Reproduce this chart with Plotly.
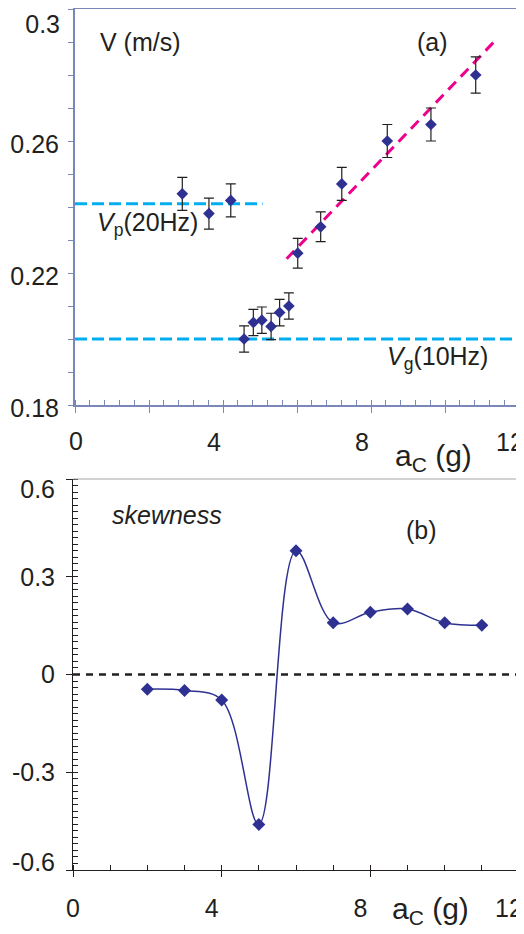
import plotly.graph_objects as go

# ---- data: panel (a) velocity vs a_c ----
v_x = [2.90, 3.62, 4.21, 4.57, 4.82, 5.05, 5.30, 5.53, 5.78, 6.02, 6.64, 7.21, 8.44, 9.62, 10.83]
v_y = [0.244, 0.238, 0.242, 0.200, 0.205, 0.2057, 0.2038, 0.208, 0.210, 0.226, 0.234, 0.247, 0.260, 0.265, 0.280]
v_err = [0.005, 0.0047, 0.005, 0.004, 0.004, 0.004, 0.004, 0.004, 0.004, 0.0045, 0.0045, 0.005, 0.005, 0.005, 0.0055]

fit_x = [5.72, 11.38]
fit_y = [0.2243, 0.2907]
vp_x = [0, 5.07]
vp_y = [0.241, 0.241]
vg_x = [0, 12]
vg_y = [0.200, 0.200]

# ---- data: panel (b) skewness ----
s_x = [2, 3, 4, 5, 6, 7, 8, 9, 10, 11]
s_y = [-0.045, -0.049, -0.078, -0.46, 0.38, 0.159, 0.191, 0.201, 0.159, 0.151]
zero_x = [0, 12]
zero_y = [0, 0]

# ---- tick labels ----
xa_vals = [0, 2, 4, 6, 8, 10, 12]
xa_text = ["", "", "4", "", "8", "", "12"]
xa0_vals, xa0_text = [0], ["0"]
ya_vals = [0.18, 0.19, 0.20, 0.21, 0.22, 0.23, 0.24, 0.25, 0.26, 0.27, 0.28, 0.29, 0.30]
ya_text = ["0.18", "", "", "", "0.22", "", "", "", "0.26", "", "", "", ""]
ya_top_vals, ya_top_text = [0.30], ["0.3"]
xb_vals = [0, 4, 8, 12]
xb_text = ["", "4", "8", "12"]
xb0_vals, xb0_text = [0], ["0"]
yb_vals = [-0.6, -0.3, 0, 0.3, 0.6]
yb_text = ["", "-0.3", "0", "0.3", ""]
yb_top_vals, yb_top_text = [0.6], ["0.6"]
yb_bot_vals, yb_bot_text = [-0.6], ["-0.6"]

NAVY = "#2E3192"
TXT = "#231F20"
FRAME = "#7C87B9"
CYAN = "#00AEEF"
MAGENTA = "#EC008C"
FONT = "Liberation Sans, Arial, Helvetica, sans-serif"
CLEAR = "rgba(0,0,0,0)"

# page has an 8px body margin: figure is placed at (8, 8) in the 524x934 window
OFF = 8
W, H = 524 - OFF, 934 - OFF


def fx(px):
    return min(1.0, max(0.0, (px - OFF) / W))


def fy(py):
    return min(1.0, max(0.0, 1 - (py - OFF) / H))


fig = go.Figure()

# panel (a)
fig.add_trace(go.Scatter(x=vg_x, y=vg_y, mode="lines", xaxis="x", yaxis="y",
                         line=dict(color=CYAN, width=3, dash="12px,5px"), hoverinfo="skip"))
fig.add_trace(go.Scatter(x=vp_x, y=vp_y, mode="lines", xaxis="x", yaxis="y",
                         line=dict(color=CYAN, width=3, dash="12px,5px"), hoverinfo="skip"))
fig.add_trace(go.Scatter(x=fit_x, y=fit_y, mode="lines", xaxis="x", yaxis="y",
                         line=dict(color=MAGENTA, width=3, dash="11px,7px")))
fig.add_trace(go.Scatter(x=v_x, y=v_y, mode="markers", xaxis="x", yaxis="y",
                         marker=dict(symbol="diamond", size=9, color=NAVY),
                         error_y=dict(type="data", array=v_err, visible=True,
                                      color=TXT, thickness=1.2, width=5)))

# panel (b)
fig.add_trace(go.Scatter(x=zero_x, y=zero_y, mode="lines", xaxis="x2", yaxis="y2",
                         line=dict(color=TXT, width=2.5, dash="7px,6px")))
fig.add_trace(go.Scatter(x=s_x, y=s_y, mode="lines+markers", xaxis="x2", yaxis="y2",
                         line=dict(color=NAVY, width=1.5, shape="spline", smoothing=1.0),
                         marker=dict(symbol="diamond", size=10, color=NAVY)))

# empty traces so the label-only overlay axes are drawn
for xa, ya in [("x3", "y"), ("x", "y3"), ("x4", "y2"), ("x2", "y4"), ("x2", "y5")]:
    fig.add_trace(go.Scatter(x=[], y=[], xaxis=xa, yaxis=ya, mode="markers", hoverinfo="skip"))

tickfont = dict(family=FONT, size=25, color=TXT)


def label_axis(overlay, anchor, rng, vals, text, ticklen, standoff, shift):
    return dict(overlaying=overlay, anchor=anchor, range=rng, automargin=False,
                tickmode="array", tickvals=vals, ticktext=text,
                ticks="outside", ticklen=ticklen, tickcolor=CLEAR,
                showline=False, showgrid=False, zeroline=False, tickfont=tickfont,
                ticklabelstandoff=standoff, ticklabelshift=shift, ticklabeloverflow="allow")


fig.update_layout(
    template="none",
    width=W, height=H, showlegend=False,
    paper_bgcolor="white", plot_bgcolor="white",
    margin=dict(l=0, r=0, t=0, b=0, pad=0, autoexpand=False),
    font=dict(family=FONT, color=TXT),
    xaxis=dict(domain=[fx(75), fx(519)], range=[0, 12], anchor="y", automargin=False,
               tickmode="array", tickvals=xa_vals, ticktext=xa_text,
               ticks="outside", ticklen=6, tickcolor=FRAME, tickwidth=1,
               minor=dict(dtick=0.4, tick0=0, ticks="inside", ticklen=5, tickcolor=FRAME, showgrid=False),
               showline=True, linecolor=FRAME, linewidth=2, mirror=True,
               showgrid=False, zeroline=False, tickfont=tickfont,
               ticklabelstandoff=8, ticklabelshift=-9, ticklabeloverflow="allow"),
    xaxis3=label_axis("x", "y", [0, 12], xa0_vals, xa0_text, 6, 8, 1),
    yaxis=dict(domain=[fy(405), fy(9)], range=[0.18, 0.30], anchor="x", automargin=False,
               tickmode="array", tickvals=ya_vals, ticktext=ya_text,
               ticks="outside", ticklen=5, tickcolor=FRAME, tickwidth=1,
               showline=True, linecolor=FRAME, linewidth=2, mirror=True,
               showgrid=False, zeroline=False, tickfont=tickfont,
               ticklabelstandoff=4, ticklabelshift=3, ticklabeloverflow="allow"),
    yaxis3=label_axis("y", "x", [0.18, 0.30], ya_top_vals, ya_top_text, 5, 4, 15),
    xaxis2=dict(domain=[fx(73), fx(519)], range=[0, 12], anchor="y2", automargin=False,
                tickmode="array", tickvals=xb_vals, ticktext=xb_text,
                ticks="outside", ticklen=6, tickcolor=TXT, tickwidth=1,
                minor=dict(dtick=1, tick0=0, ticks="inside", ticklen=5, tickcolor=TXT, showgrid=False),
                showline=True, linecolor=TXT, linewidth=1,
                showgrid=False, zeroline=False, tickfont=tickfont,
                ticklabelstandoff=10, ticklabelshift=-10, ticklabeloverflow="allow"),
    xaxis4=label_axis("x2", "y2", [0, 12], xb0_vals, xb0_text, 6, 10, 0),
    yaxis2=dict(domain=[fy(870), fy(479)], range=[-0.6, 0.6], anchor="x2", automargin=False,
                tickmode="array", tickvals=yb_vals, ticktext=yb_text,
                ticks="outside", ticklen=6, tickcolor=TXT, tickwidth=1,
                minor=dict(dtick=0.02, tick0=0, ticks="inside", ticklen=5, tickcolor=TXT, showgrid=False),
                showline=True, linecolor=TXT, linewidth=1,
                showgrid=False, zeroline=False, tickfont=tickfont,
                ticklabelstandoff=6, ticklabeloverflow="allow"),
    yaxis4=label_axis("y2", "x2", [-0.6, 0.6], yb_top_vals, yb_top_text, 6, 6, 10),
    yaxis5=label_axis("y2", "x2", [-0.6, 0.6], yb_bot_vals, yb_bot_text, 6, 6, -8),
    shapes=[
        dict(type="line", xref="x2 domain", yref="y2 domain", x0=0, x1=1, y0=1, y1=1,
             line=dict(color="#A6A6A6", width=1.2)),
        dict(type="line", xref="x2 domain", yref="y2 domain", x0=1, x1=1, y0=0, y1=1,
             line=dict(color="#A6A6A6", width=1.2)),
    ],
)

ann_font = dict(family=FONT, size=25, color=TXT)
annotations = [
    dict(text="V (m/s)", x=0.62, y=0.290, xref="x", yref="y", xanchor="left", yanchor="middle"),
    dict(text="(a)", x=9.65, y=0.290, xref="x", yref="y", xanchor="center", yanchor="middle"),
    dict(text="<i>V</i><sub>p</sub>(20Hz)", x=0.54, y=0.2349, xref="x", yref="y", xanchor="left", yanchor="middle"),
    dict(text="<i>V</i><sub>g</sub>(10Hz)", x=8.38, y=0.1941, xref="x", yref="y", xanchor="left", yanchor="middle"),
    dict(text="<i>skewness</i>", x=1.0, y=0.489, xref="x2", yref="y2", xanchor="left", yanchor="middle"),
    dict(text="(b)", x=9.38, y=0.443, xref="x2", yref="y2", xanchor="center", yanchor="middle"),
]
for a in annotations:
    a.update(showarrow=False, font=ann_font)
title_font = dict(family=FONT, size=30, color=TXT)
annotations += [
    dict(text="a<sub>C</sub> (g)", x=fx(433), y=fy(457), xref="paper", yref="paper",
         xanchor="center", yanchor="middle", showarrow=False, font=title_font),
    dict(text="a<sub>C</sub> (g)", x=fx(430), y=fy(910), xref="paper", yref="paper",
         xanchor="center", yanchor="middle", showarrow=False, font=title_font),
]
fig.update_layout(annotations=annotations)

fig.write_html("out.html")
